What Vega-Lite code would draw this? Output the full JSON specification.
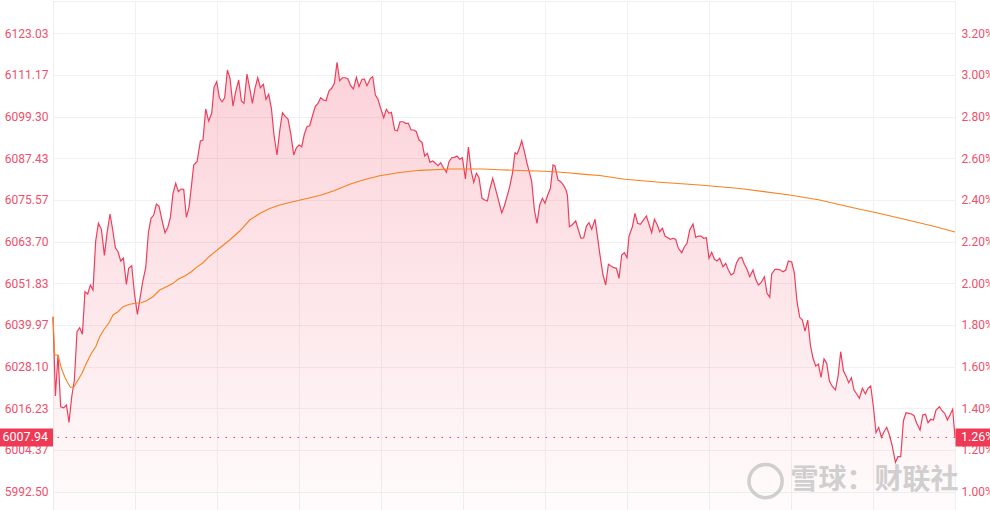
{
 "$schema": "https://vega.github.io/schema/vega-lite/v6.json",
 "width": 902,
 "height": 509,
 "autosize": "none",
 "padding": {"left": 53, "top": 1, "right": 35, "bottom": 0},
 "background": "white",
 "config": {
  "view": {"stroke": "#efefef", "strokeWidth": 1},
  "axis": {"labelFont": "Roboto", "labelFontSize": 12, "labelColor": "#f0506b", "ticks": false, "domain": false, "gridColor": "#f1f1f1", "gridWidth": 1}
 },
 "datasets": {
  "px": [
   {"t":0,"price":6042.32},{"t":0.64,"price":6019.74},{"t":1.33,"price":6031.42},{"t":2.05,"price":6016.69},{"t":2.85,"price":6016.41},{"t":3.57,"price":6017.18},{"t":4.26,"price":6012.25},{"t":4.98,"price":6019.54},{"t":5.69,"price":6024.30},{"t":6.39,"price":6038.05},{"t":7.10,"price":6039.19},{"t":7.82,"price":6037.31},{"t":8.51,"price":6049.44},{"t":9.23,"price":6048.79},{"t":9.95,"price":6051.35},{"t":10.64,"price":6049.93},{"t":11.36,"price":6063.88},{"t":12.08,"price":6068.92},{"t":12.88,"price":6067.21},{"t":13.68,"price":6059.81},{"t":14.37,"price":6066.07},{"t":15.17,"price":6071.57},{"t":15.89,"price":6067.01},{"t":16.60,"price":6061.97},{"t":17.30,"price":6060.83},{"t":18.01,"price":6058.19},{"t":18.73,"price":6059.04},{"t":19.53,"price":6051.55},{"t":20.14,"price":6056.11},{"t":20.94,"price":6056.85},{"t":21.66,"price":6048.99},{"t":22.46,"price":6043.01},{"t":23.15,"price":6047.56},{"t":23.87,"price":6052.29},{"t":24.67,"price":6056.28},{"t":25.38,"price":6066.24},{"t":26.08,"price":6070.34},{"t":26.79,"price":6071.28},{"t":27.51,"price":6074.42},{"t":28.20,"price":6073.85},{"t":29.00,"price":6069.86},{"t":29.80,"price":6066.24},{"t":30.52,"price":6067.67},{"t":31.24,"price":6070.63},{"t":31.93,"price":6077.46},{"t":32.65,"price":6080.31},{"t":33.37,"price":6077.92},{"t":34.06,"price":6078.69},{"t":34.78,"price":6078.60},{"t":35.49,"price":6070.63},{"t":36.19,"price":6073.48},{"t":36.91,"price":6080.31},{"t":37.44,"price":6085.52},{"t":38.32,"price":6086.46},{"t":39.22,"price":6092.36},{"t":39.91,"price":6092.64},{"t":40.63,"price":6101.47},{"t":41.43,"price":6098.05},{"t":42.23,"price":6100.25},{"t":42.84,"price":6107.65},{"t":43.56,"price":6109.24},{"t":44.27,"price":6104.69},{"t":44.97,"price":6103.55},{"t":45.68,"price":6104.69},{"t":46.40,"price":6112.58},{"t":47.10,"price":6110.21},{"t":47.89,"price":6102.32},{"t":48.61,"price":6106.40},{"t":49.41,"price":6109.73},{"t":50.13,"price":6103.75},{"t":50.82,"price":6103.09},{"t":51.62,"price":6111.44},{"t":52.34,"price":6107.37},{"t":53.06,"price":6103.09},{"t":53.75,"price":6107.37},{"t":54.47,"price":6110.38},{"t":55.18,"price":6107.54},{"t":55.98,"price":6108.50},{"t":56.67,"price":6104.23},{"t":57.39,"price":6105.66},{"t":58.11,"price":6101.67},{"t":58.80,"price":6094.07},{"t":59.60,"price":6088.37},{"t":60.32,"price":6095.21},{"t":61.04,"price":6100.42},{"t":61.84,"price":6099.28},{"t":62.53,"price":6098.62},{"t":63.25,"price":6094.55},{"t":64.05,"price":6088.37},{"t":64.76,"price":6090.45},{"t":65.46,"price":6091.22},{"t":66.17,"price":6090.73},{"t":66.89,"price":6094.35},{"t":67.58,"price":6096.43},{"t":68.30,"price":6096.71},{"t":69.02,"price":6099.48},{"t":69.82,"price":6102.32},{"t":70.51,"price":6103.09},{"t":71.23,"price":6104.69},{"t":71.95,"price":6104.03},{"t":72.64,"price":6103.83},{"t":73.44,"price":6106.68},{"t":74.16,"price":6107.37},{"t":74.87,"price":6108.79},{"t":75.57,"price":6114.77},{"t":76.28,"price":6109.53},{"t":77.00,"price":6110.38},{"t":77.80,"price":6110.38},{"t":78.49,"price":6110.01},{"t":79.21,"price":6108.11},{"t":79.93,"price":6107.17},{"t":80.73,"price":6110.50},{"t":81.42,"price":6107.82},{"t":82.22,"price":6109.93},{"t":82.86,"price":6110.01},{"t":83.55,"price":6108.11},{"t":84.45,"price":6110.21},{"t":85.07,"price":6110.67},{"t":85.78,"price":6105.46},{"t":86.48,"price":6104.23},{"t":87.19,"price":6101.67},{"t":87.99,"price":6098.99},{"t":88.71,"price":6101.38},{"t":89.40,"price":6100.25},{"t":90.04,"price":6100.53},{"t":90.92,"price":6095.49},{"t":91.64,"price":6095.29},{"t":92.33,"price":6097.85},{"t":93.13,"price":6097.85},{"t":93.85,"price":6097.40},{"t":94.56,"price":6097.40},{"t":95.26,"price":6095.49},{"t":95.97,"price":6095.49},{"t":96.69,"price":6095.01},{"t":97.38,"price":6092.64},{"t":98.18,"price":6091.99},{"t":98.90,"price":6088.09},{"t":99.62,"price":6088.85},{"t":100.31,"price":6086.29},{"t":101.03,"price":6086.66},{"t":101.75,"price":6086.01},{"t":102.44,"price":6085.32},{"t":103.16,"price":6086.18},{"t":103.88,"price":6084.75},{"t":104.68,"price":6083.44},{"t":105.37,"price":6086.46},{"t":106.09,"price":6087.60},{"t":106.81,"price":6087.72},{"t":107.50,"price":6088.09},{"t":108.21,"price":6087.15},{"t":108.93,"price":6087.60},{"t":109.73,"price":6081.54},{"t":110.53,"price":6090.65},{"t":111.22,"price":6084.10},{"t":111.94,"price":6080.60},{"t":112.66,"price":6083.16},{"t":113.35,"price":6081.91},{"t":114.15,"price":6076.04},{"t":114.87,"price":6075.56},{"t":115.58,"price":6075.27},{"t":116.28,"price":6078.89},{"t":116.99,"price":6081.74},{"t":117.71,"price":6078.89},{"t":118.40,"price":6076.04},{"t":119.39,"price":6071.94},{"t":120.11,"price":6073.93},{"t":120.80,"price":6076.50},{"t":121.52,"price":6079.34},{"t":122.24,"price":6083.16},{"t":122.93,"price":6089.03},{"t":123.46,"price":6088.66},{"t":124.10,"price":6090.28},{"t":124.71,"price":6092.44},{"t":125.43,"price":6089.31},{"t":126.12,"price":6086.01},{"t":126.84,"price":6083.16},{"t":127.37,"price":6080.77},{"t":128.09,"price":6072.71},{"t":128.78,"price":6068.92},{"t":129.50,"price":6074.13},{"t":130.22,"price":6076.04},{"t":130.91,"price":6074.62},{"t":131.63,"price":6076.98},{"t":132.35,"price":6078.89},{"t":133.04,"price":6085.52},{"t":133.57,"price":6085.24},{"t":134.37,"price":6081.25},{"t":135.09,"price":6080.77},{"t":135.81,"price":6079.83},{"t":136.50,"price":6078.40},{"t":136.87,"price":6076.98},{"t":137.40,"price":6067.95},{"t":138.09,"price":6068.44},{"t":139.08,"price":6069.58},{"t":139.80,"price":6067.01},{"t":140.49,"price":6064.65},{"t":141.21,"price":6064.82},{"t":141.93,"price":6068.15},{"t":142.62,"price":6069.09},{"t":143.34,"price":6067.21},{"t":144.22,"price":6070.06},{"t":144.75,"price":6066.07},{"t":145.47,"price":6060.38},{"t":146.34,"price":6054.20},{"t":147.06,"price":6051.35},{"t":147.78,"price":6057.25},{"t":148.47,"price":6056.76},{"t":149.19,"price":6056.28},{"t":149.91,"price":6056.11},{"t":150.60,"price":6053.26},{"t":151.32,"price":6059.89},{"t":152.03,"price":6060.55},{"t":152.73,"price":6059.12},{"t":153.26,"price":6065.30},{"t":154.16,"price":6067.95},{"t":154.85,"price":6071.77},{"t":155.57,"price":6068.92},{"t":156.29,"price":6068.64},{"t":156.98,"price":6069.66},{"t":157.89,"price":6071.00},{"t":158.58,"price":6068.64},{"t":159.30,"price":6066.24},{"t":160.02,"price":6070.06},{"t":160.71,"price":6068.64},{"t":161.43,"price":6066.53},{"t":162.15,"price":6067.50},{"t":162.84,"price":6065.30},{"t":163.56,"price":6064.82},{"t":164.27,"price":6064.36},{"t":164.97,"price":6064.65},{"t":165.68,"price":6064.36},{"t":166.40,"price":6061.80},{"t":167.28,"price":6060.55},{"t":168.00,"price":6062.26},{"t":168.69,"price":6063.22},{"t":169.41,"price":6067.01},{"t":170.29,"price":6068.72},{"t":171.01,"price":6064.93},{"t":171.72,"price":6065.30},{"t":172.42,"price":6065.30},{"t":173.13,"price":6064.65},{"t":173.85,"price":6064.82},{"t":174.54,"price":6058.95},{"t":175.26,"price":6060.66},{"t":175.98,"price":6058.67},{"t":176.67,"price":6058.19},{"t":177.39,"price":6058.95},{"t":178.27,"price":6056.56},{"t":178.99,"price":6057.53},{"t":179.70,"price":6055.62},{"t":180.40,"price":6054.20},{"t":181.12,"price":6054.68},{"t":181.83,"price":6057.53},{"t":182.53,"price":6058.95},{"t":183.25,"price":6059.24},{"t":183.96,"price":6057.25},{"t":184.66,"price":6055.82},{"t":185.38,"price":6053.71},{"t":186.25,"price":6055.62},{"t":186.97,"price":6052.97},{"t":187.69,"price":6051.35},{"t":188.38,"price":6052.01},{"t":189.29,"price":6053.71},{"t":189.98,"price":6048.99},{"t":190.70,"price":6047.85},{"t":191.23,"price":6054.48},{"t":192.11,"price":6055.82},{"t":192.83,"price":6055.82},{"t":193.54,"price":6055.62},{"t":194.24,"price":6055.14},{"t":194.96,"price":6055.62},{"t":195.67,"price":6058.19},{"t":196.55,"price":6057.90},{"t":197.27,"price":6054.68},{"t":197.96,"price":6046.60},{"t":198.68,"price":6042.15},{"t":199.40,"price":6041.38},{"t":200.09,"price":6038.25},{"t":200.81,"price":6041.38},{"t":201.53,"price":6034.26},{"t":202.22,"price":6030.48},{"t":202.94,"price":6028.28},{"t":203.65,"price":6028.85},{"t":204.35,"price":6025.07},{"t":205.15,"price":6030.28},{"t":205.86,"price":6029.05},{"t":206.58,"price":6024.01},{"t":207.27,"price":6022.59},{"t":208.18,"price":6021.45},{"t":208.87,"price":6025.24},{"t":209.59,"price":6032.36},{"t":210.31,"price":6026.95},{"t":211.00,"price":6025.44},{"t":211.72,"price":6023.53},{"t":212.43,"price":6024.95},{"t":213.13,"price":6021.45},{"t":213.85,"price":6020.31},{"t":214.56,"price":6019.09},{"t":215.36,"price":6021.93},{"t":216.16,"price":6020.31},{"t":216.85,"price":6021.93},{"t":217.57,"price":6022.59},{"t":218.29,"price":6016.69},{"t":218.98,"price":6009.29},{"t":219.70,"price":6010.83},{"t":220.42,"price":6007.98},{"t":221.11,"price":6009.58},{"t":221.83,"price":6010.83},{"t":222.55,"price":6008.64},{"t":223.24,"price":6005.79},{"t":224.15,"price":6000.86},{"t":224.84,"price":6002.46},{"t":225.56,"price":6002.46},{"t":226.28,"price":6012.71},{"t":226.97,"price":6014.99},{"t":227.69,"price":6014.81},{"t":228.41,"price":6014.62},{"t":229.10,"price":6014.13},{"t":229.82,"price":6011.97},{"t":230.70,"price":6010.06},{"t":231.42,"price":6014.33},{"t":232.13,"price":6014.53},{"t":232.83,"price":6012.14},{"t":233.54,"price":6013.11},{"t":234.26,"price":6012.91},{"t":234.95,"price":6015.75},{"t":235.86,"price":6016.69},{"t":236.54,"price":6015.55},{"t":237.26,"price":6014.81},{"t":237.98,"price":6012.91},{"t":238.67,"price":6014.33},{"t":239.39,"price":6015.95},{"t":240,"price":6007.94}
  ],
  "avg": [
   {"t":0,"avg":6042.32},{"t":0.45,"avg":6031.42},{"t":1.33,"avg":6031.42},{"t":2.24,"avg":6027.63},{"t":3.11,"avg":6025.24},{"t":3.99,"avg":6023.36},{"t":4.63,"avg":6022.22},{"t":5.51,"avg":6022.22},{"t":6.65,"avg":6024.30},{"t":7.72,"avg":6026.20},{"t":8.89,"avg":6029.05},{"t":10.22,"avg":6031.90},{"t":11.36,"avg":6033.78},{"t":12.43,"avg":6036.63},{"t":13.49,"avg":6038.54},{"t":14.90,"avg":6040.61},{"t":15.96,"avg":6042.81},{"t":17.30,"avg":6043.75},{"t":18.63,"avg":6045.17},{"t":20.41,"avg":6045.85},{"t":22.00,"avg":6046.14},{"t":23.52,"avg":6046.31},{"t":24.85,"avg":6046.88},{"t":26.61,"avg":6048.02},{"t":28.39,"avg":6049.93},{"t":30.17,"avg":6050.87},{"t":31.93,"avg":6051.83},{"t":33.26,"avg":6052.97},{"t":35.04,"avg":6053.91},{"t":36.82,"avg":6055.14},{"t":38.15,"avg":6056.39},{"t":39.91,"avg":6057.70},{"t":41.51,"avg":6059.41},{"t":44.36,"avg":6061.89},{"t":47.02,"avg":6064.16},{"t":49.68,"avg":6066.73},{"t":52.34,"avg":6069.86},{"t":55.00,"avg":6071.71},{"t":57.66,"avg":6073.13},{"t":60.32,"avg":6074.13},{"t":62.98,"avg":6074.84},{"t":66.97,"avg":6075.84},{"t":70.96,"avg":6076.84},{"t":74.95,"avg":6078.26},{"t":78.95,"avg":6080.03},{"t":82.94,"avg":6081.39},{"t":86.93,"avg":6082.48},{"t":92.25,"avg":6083.39},{"t":97.57,"avg":6084.01},{"t":105.55,"avg":6084.38},{"t":114.33,"avg":6084.38},{"t":118.85,"avg":6084.19},{"t":124.17,"avg":6083.96},{"t":130.83,"avg":6083.73},{"t":136.15,"avg":6083.39},{"t":141.47,"avg":6082.87},{"t":145.47,"avg":6082.53},{"t":152.12,"avg":6081.45},{"t":161.43,"avg":6080.62},{"t":172.07,"avg":6079.83},{"t":182.72,"avg":6078.83},{"t":196.02,"avg":6076.98},{"t":204.01,"avg":6075.56},{"t":211.99,"avg":6073.56},{"t":219.97,"avg":6071.71},{"t":227.95,"avg":6069.72},{"t":234.61,"avg":6068.01},{"t":240,"avg":6066.44}
  ],
  "last": [{"close": 6007.94, "chg": "1.26%"}],
  "mark": [{"t": 218.6, "y": 5995.5, "label": "雪球：财联社", "lx": 189.6}]
 },
 "layer": [
  {
   "layer": [
    {
     "data": {"name": "px"},
     "mark": {"type": "area", "fill": {"gradient": "linear", "x1": 0, "y1": 0, "x2": 0, "y2": 1, "stops": [{"offset": 0, "color": "rgba(239,62,91,0.23)"}, {"offset": 0.55, "color": "rgba(239,62,91,0.12)"}, {"offset": 1, "color": "rgba(239,62,91,0.02)"}]}},
     "encoding": {
      "x": {"field": "t", "type": "quantitative", "title": null, "scale": {"domain": [0, 240], "nice": false, "zero": false}, "axis": {"values": [21.818, 43.636, 65.455, 87.273, 109.091, 130.909, 152.727, 174.545, 196.364, 218.182], "grid": true, "labels": false, "ticks": false, "domain": false, "title": null}},
      "y": {"field": "price", "type": "quantitative", "title": null, "scale": {"domain": [5987.28, 6132.23], "nice": false, "zero": false}, "axis": {"orient": "left", "values": [5992.5, 6004.37, 6016.23, 6028.1, 6039.97, 6051.83, 6063.7, 6075.57, 6087.43, 6099.3, 6111.17, 6123.03], "format": ".2f", "grid": true, "labelPadding": 5, "title": null}},
      "y2": {"datum": 5987.28}
     }
    },
    {
     "data": {"name": "px"},
     "mark": {"type": "line", "color": "#ef3e5b", "strokeWidth": 1.2},
     "encoding": {"x": {"field": "t", "type": "quantitative", "title": null}, "y": {"field": "price", "type": "quantitative", "title": null}}
    },
    {
     "data": {"name": "avg"},
     "mark": {"type": "line", "color": "#f7811e", "strokeWidth": 1.1},
     "encoding": {"x": {"field": "t", "type": "quantitative", "title": null}, "y": {"field": "avg", "type": "quantitative", "title": null}}
    },
    {
     "data": {"name": "last"},
     "mark": {"type": "rule", "color": "#ef3e5b", "strokeDash": [1.5, 6.5], "strokeWidth": 1},
     "encoding": {"y": {"field": "close", "type": "quantitative", "title": null}}
    },
    {
     "data": {"name": "last"},
     "mark": {"type": "rect", "color": "#ef3a56", "width": 53, "height": 18, "xOffset": -26.5},
     "encoding": {"x": {"datum": 0, "type": "quantitative"}, "y": {"field": "close", "type": "quantitative", "title": null}}
    },
    {
     "data": {"name": "last"},
     "mark": {"type": "rect", "color": "#ef3a56", "width": 35, "height": 18, "xOffset": 18},
     "encoding": {"x": {"datum": 240, "type": "quantitative"}, "y": {"field": "close", "type": "quantitative", "title": null}}
    },
    {
     "data": {"name": "last"},
     "mark": {"type": "text", "color": "#ffffff", "font": "Roboto", "fontSize": 12.5, "align": "right", "baseline": "middle", "dx": -5},
     "encoding": {"x": {"datum": 0, "type": "quantitative"}, "y": {"field": "close", "type": "quantitative", "title": null}, "text": {"field": "close", "type": "quantitative", "format": ".2f"}}
    },
    {
     "data": {"name": "last"},
     "mark": {"type": "text", "color": "#ffffff", "font": "Roboto", "fontSize": 12.5, "align": "left", "baseline": "middle", "dx": 6},
     "encoding": {"x": {"datum": 240, "type": "quantitative"}, "y": {"field": "close", "type": "quantitative", "title": null}, "text": {"field": "chg"}}
    },
    {
     "data": {"name": "mark"},
     "mark": {"type": "point", "shape": "circle", "filled": false, "size": 1100, "stroke": "#c8c8c8", "strokeWidth": 3.5, "opacity": 0.85},
     "encoding": {"x": {"field": "lx", "type": "quantitative", "title": null}, "y": {"field": "y", "type": "quantitative", "title": null}}
    },
    {
     "data": {"name": "mark"},
     "mark": {"type": "text", "font": "Noto Sans CJK SC", "fontSize": 28, "fontWeight": "bold", "color": "#c8c8c8", "opacity": 0.85, "align": "center", "baseline": "middle"},
     "encoding": {"x": {"field": "t", "type": "quantitative", "title": null}, "y": {"field": "y", "type": "quantitative", "title": null}, "text": {"field": "label"}}
    }
   ]
  },
  {
   "data": {"values": [{"pct": 1.0}, {"pct": 3.2}]},
   "mark": {"type": "point", "opacity": 0},
   "encoding": {
    "y": {"field": "pct", "type": "quantitative", "title": null, "scale": {"domain": [0.912, 3.3551], "nice": false, "zero": false}, "axis": {"orient": "right", "values": [1.0, 1.2, 1.4, 1.6, 1.8, 2.0, 2.2, 2.4, 2.6, 2.8, 3.0, 3.2], "labelExpr": "format(datum.value, '.2f') + '%'", "grid": false, "labelPadding": 6, "title": null}}
   }
  }
 ],
 "resolve": {"scale": {"y": "independent"}}
}
